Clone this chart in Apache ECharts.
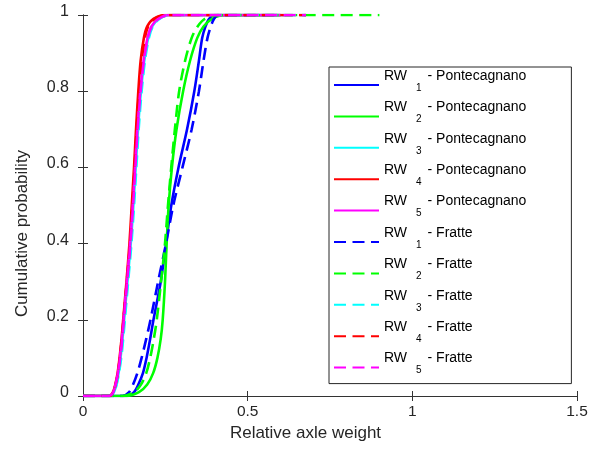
<!DOCTYPE html>
<html>
<head>
<meta charset="utf-8">
<script src="https://cdn.jsdelivr.net/npm/echarts@6/dist/echarts.min.js"></script>
<style>
  html, body { margin: 0; padding: 0; background: #fff; }
  #chart { width: 597px; height: 452px; }
</style>
</head>
<body>
<div id="chart"></div>
<script>
// Cumulative probability levels shared by every curve
const probLevels = [0, 0.01, 0.03, 0.06, 0.1, 0.15, 0.2, 0.3, 0.4, 0.5, 0.6, 0.7, 0.8, 0.88, 0.94, 0.97, 0.99, 1];

// Relative axle weight reached at each probability level (Pontecagnano)
const pontecagnanoRW1 = [0.135, 0.155, 0.168, 0.182, 0.193, 0.204, 0.214, 0.236, 0.252, 0.268, 0.290, 0.316, 0.338, 0.352, 0.362, 0.372, 0.383, 0.400];
const pontecagnanoRW2 = [0.130, 0.170, 0.195, 0.213, 0.226, 0.236, 0.242, 0.249, 0.254, 0.260, 0.270, 0.284, 0.304, 0.325, 0.347, 0.366, 0.392, 0.430];
const pontecagnanoRW3 = [0.082, 0.094, 0.101, 0.108, 0.114, 0.120, 0.125, 0.135, 0.145, 0.153, 0.160, 0.167, 0.176, 0.186, 0.198, 0.210, 0.230, 0.262];
const pontecagnanoRW4 = [0.080, 0.091, 0.098, 0.105, 0.111, 0.117, 0.122, 0.132, 0.141, 0.148, 0.155, 0.161, 0.168, 0.175, 0.185, 0.195, 0.214, 0.250];
const pontecagnanoRW5 = [0.080, 0.092, 0.099, 0.106, 0.112, 0.118, 0.123, 0.133, 0.143, 0.151, 0.158, 0.165, 0.174, 0.184, 0.196, 0.208, 0.228, 0.260];

// Relative axle weight reached at each probability level (Fratte)
const fratteRW1 = [0.120, 0.140, 0.152, 0.165, 0.178, 0.192, 0.205, 0.228, 0.252, 0.274, 0.302, 0.330, 0.352, 0.366, 0.378, 0.388, 0.398, 0.410];
const fratteRW2 = [0.120, 0.155, 0.176, 0.192, 0.204, 0.215, 0.224, 0.237, 0.249, 0.258, 0.268, 0.279, 0.292, 0.310, 0.330, 0.348, 0.370, 0.415];
const fratteRW3 = [0.082, 0.094, 0.102, 0.109, 0.116, 0.122, 0.127, 0.137, 0.147, 0.155, 0.162, 0.169, 0.178, 0.188, 0.200, 0.212, 0.232, 0.265];
const fratteRW4 = [0.081, 0.092, 0.099, 0.106, 0.112, 0.118, 0.123, 0.133, 0.143, 0.150, 0.157, 0.163, 0.170, 0.178, 0.188, 0.198, 0.217, 0.252];
const fratteRW5 = [0.080, 0.092, 0.099, 0.106, 0.113, 0.119, 0.124, 0.134, 0.144, 0.152, 0.159, 0.166, 0.175, 0.185, 0.197, 0.209, 0.229, 0.261];

// Largest observed relative axle weight for each curve
const pontecagnanoMax = [0.60, 0.60, 0.60, 0.60, 0.60];
const fratteMax = [0.677, 0.90, 0.677, 0.677, 0.677];

const xTicks = [0, 0.5, 1, 1.5];
const yTicks = [0, 0.2, 0.4, 0.6, 0.8, 1];

const colors = ['#0000ff', '#00ff00', '#00ffff', '#ff0000', '#ff00ff'];

function cdfPoints(quantiles, xMax) {
  const pts = [[0, 0]];
  quantiles.forEach((q, i) => pts.push([q, probLevels[i]]));
  pts.push([xMax, 1]);
  return pts;
}

const pontecagnano = [pontecagnanoRW1, pontecagnanoRW2, pontecagnanoRW3, pontecagnanoRW4, pontecagnanoRW5];
const fratte = [fratteRW1, fratteRW2, fratteRW3, fratteRW4, fratteRW5];

const series = [];
pontecagnano.forEach((q, i) => {
  series.push({
    name: 'RW' + (i + 1) + ' - Pontecagnano',
    type: 'line', symbol: 'none', smooth: 0.3,
    data: cdfPoints(q, pontecagnanoMax[i]),
    lineStyle: { color: colors[i], width: 2.6, type: 'solid' },
    itemStyle: { color: colors[i] }
  });
});
fratte.forEach((q, i) => {
  series.push({
    name: 'RW' + (i + 1) + ' - Fratte',
    type: 'line', symbol: 'none', smooth: 0.3,
    data: cdfPoints(q, fratteMax[i]),
    lineStyle: { color: colors[i], width: 2.6, type: [12, 6.5] },
    itemStyle: { color: colors[i] }
  });
});

const axisColor = '#333333';
const textColor = '#262626';
const font = 'Liberation Sans, Arial, Helvetica, sans-serif';

const chart = echarts.init(document.getElementById('chart'), null, { renderer: 'canvas' });
chart.setOption({
  animation: false,
  backgroundColor: '#ffffff',
  grid: { left: 83, right: 20, top: 15, bottom: 56 },
  legend: {
    orient: 'vertical',
    left: 329, top: 67,
    padding: [2, 45, 8, 4],
    itemGap: 7.4,
    itemWidth: 45, itemHeight: 14,
    itemStyle: { opacity: 0 },
    borderColor: '#262626', borderWidth: 1,
    backgroundColor: '#ffffff',
    data: series.map(s => s.name),
    formatter: function (name) {
      const m = name.match(/^RW(\d) (.*)$/);
      return '{a|RW}{g| }{s|' + m[1] + '}{a|' + m[2] + '}';
    },
    textStyle: {
      fontFamily: font, color: '#000',
      rich: {
        a: { fontFamily: font, fontSize: 14, verticalAlign: 'top', color: '#000' },
        g: { fontFamily: font, fontSize: 14, lineHeight: 32, color: '#000' },
        s: { fontFamily: font, fontSize: 10, verticalAlign: 'middle', padding: [6, 6, 0, 5], color: '#000' }
      }
    }
  },
  xAxis: [
    {
      type: 'value', min: 0, max: 1.5, interval: 0.5,
      name: 'Relative axle weight', nameLocation: 'middle', nameGap: 25,
      nameTextStyle: { fontFamily: font, fontSize: 17, color: textColor, padding: [0, 49, 0, 0] },
      axisLine: { lineStyle: { color: axisColor, width: 1 } },
      axisTick: { inside: true, length: 5, lineStyle: { color: axisColor } },
      axisLabel: { fontFamily: font, fontSize: 15.5, color: textColor, margin: 8,
        formatter: v => xTicks.includes(v) ? String(v) : '' },
      splitLine: { show: false }
    },
    {
      type: 'value', min: 0, max: 1.5, interval: 0.5, position: 'top',
      axisLine: { lineStyle: { color: axisColor, width: 1 } },
      axisTick: { inside: true, length: 5, lineStyle: { color: axisColor } },
      axisLabel: { show: false }, splitLine: { show: false }
    }
  ],
  yAxis: [
    {
      type: 'value', min: 0, max: 1, interval: 0.2,
      name: 'Cumulative probability', nameLocation: 'middle', nameGap: 52,
      nameTextStyle: { fontFamily: font, fontSize: 17, color: textColor, padding: [0, 56, 0, 0] },
      axisLine: { show: true, lineStyle: { color: axisColor, width: 1 } },
      axisTick: { show: true, inside: true, length: 5, lineStyle: { color: axisColor } },
      axisLabel: { fontFamily: font, fontSize: 16, color: textColor, margin: 14,
        verticalAlign: 'bottom', lineHeight: 7,
        formatter: v => yTicks.some(t => Math.abs(t - v) < 1e-9) ? String(Math.round(v * 10) / 10) : '' },
      splitLine: { show: false }
    },
    {
      type: 'value', min: 0, max: 1, interval: 0.2, position: 'right',
      axisLine: { show: true, lineStyle: { color: axisColor, width: 1 } },
      axisTick: { show: true, inside: true, length: 5, lineStyle: { color: axisColor } },
      axisLabel: { show: false }, splitLine: { show: false }
    }
  ],
  series: series
});
</script>
</body>
</html>
